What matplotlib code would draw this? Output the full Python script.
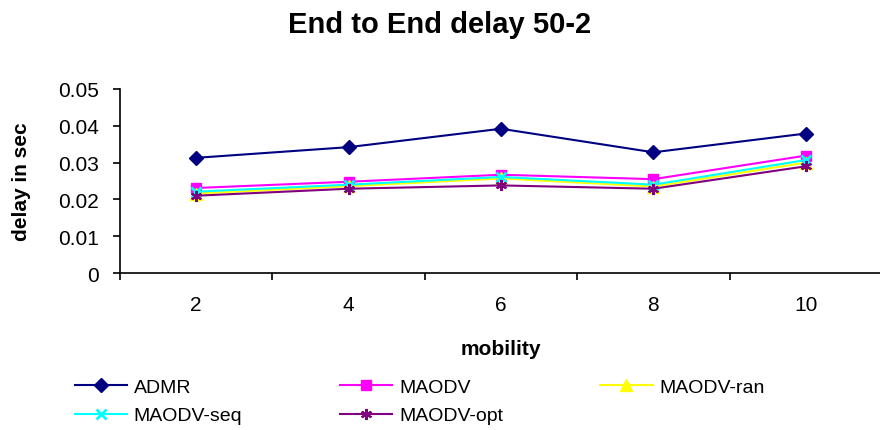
import numpy as np
import matplotlib
matplotlib.use('Agg')
import matplotlib.pyplot as plt

plt.rcParams['font.family'] = ['Liberation Sans', 'DejaVu Sans']

mobility = ['2', '4', '6', '8', '10']
admr = [0.0313, 0.0342, 0.0392, 0.0328, 0.0379]
maodv = [0.0231, 0.0248, 0.0267, 0.0255, 0.0319]
maodv_ran = [0.0216, 0.0236, 0.0257, 0.0235, 0.0300]
maodv_seq = [0.0221, 0.0240, 0.0261, 0.0240, 0.0307]
maodv_opt = [0.0210, 0.0229, 0.0238, 0.0229, 0.0290]

fig = plt.figure(figsize=(8.8, 4.31), dpi=100)
ax = fig.add_axes([120 / 880, 1 - 274 / 431, 762 / 880, 184 / 431])

x = np.arange(len(mobility))
lw = 1.5
l1, = ax.plot(x, admr, color='#000080', marker='D', markersize=7, lw=lw, label='ADMR')
l2, = ax.plot(x, maodv, color='#FF00FF', marker='s', markersize=7, lw=lw, label='MAODV')
l3, = ax.plot(x, maodv_ran, color='#FFFF00', marker='^', markersize=8, lw=lw, label='MAODV-ran')
l4, = ax.plot(x, maodv_seq, color='#00FFFF', marker='x', markersize=7, mew=2, lw=lw, label='MAODV-seq')
l5, = ax.plot(x, maodv_opt, color='#800080', marker=(6, 2, 0), markersize=8, mew=1.5, lw=lw, label='MAODV-opt')

ax.set_xlim(-0.5, len(mobility) - 0.5)
ax.set_ylim(0, 0.05)
ax.set_yticks([0, 0.01, 0.02, 0.03, 0.04, 0.05])
ax.set_yticklabels(['0', '0.01', '0.02', '0.03', '0.04', '0.05'])
ax.set_xticks(np.arange(-0.5, len(mobility), 1.0))
ax.set_xticklabels([])
ax.set_xticks(x, minor=True)
ax.set_xticklabels(mobility, minor=True)
ax.tick_params(axis='x', which='major', length=5, width=1.2, direction='out')
ax.tick_params(axis='x', which='minor', length=0, pad=16, labelsize=15)
ax.tick_params(axis='y', length=5, width=1.2, direction='out', pad=10, labelsize=15)

for s in ['top', 'right']:
    ax.spines[s].set_visible(False)
for s in ['left', 'bottom']:
    ax.spines[s].set_linewidth(1.2)

ax.set_xlabel('mobility', fontsize=15, fontweight='bold', va='top')
ax.xaxis.set_label_coords(0.5, -0.36)
ax.set_ylabel('delay in sec', fontsize=15, fontweight='bold', va='center')
ax.yaxis.set_label_coords(-0.129, 0.5)
fig.suptitle('End to End delay 50-2', fontsize=21, fontweight='bold', x=0.5, y=0.975)

handles = [l1, l4, l2, l5, l3]
fig.legend(handles=handles, labels=[h.get_label() for h in handles], ncol=3,
           loc='upper left', bbox_to_anchor=(57 / 880, 1 - 362 / 431), frameon=False,
           fontsize=14, handlelength=2.7, columnspacing=5.0, handletextpad=0.35,
           labelspacing=0.55)

fig.savefig('out.png', dpi=100)
